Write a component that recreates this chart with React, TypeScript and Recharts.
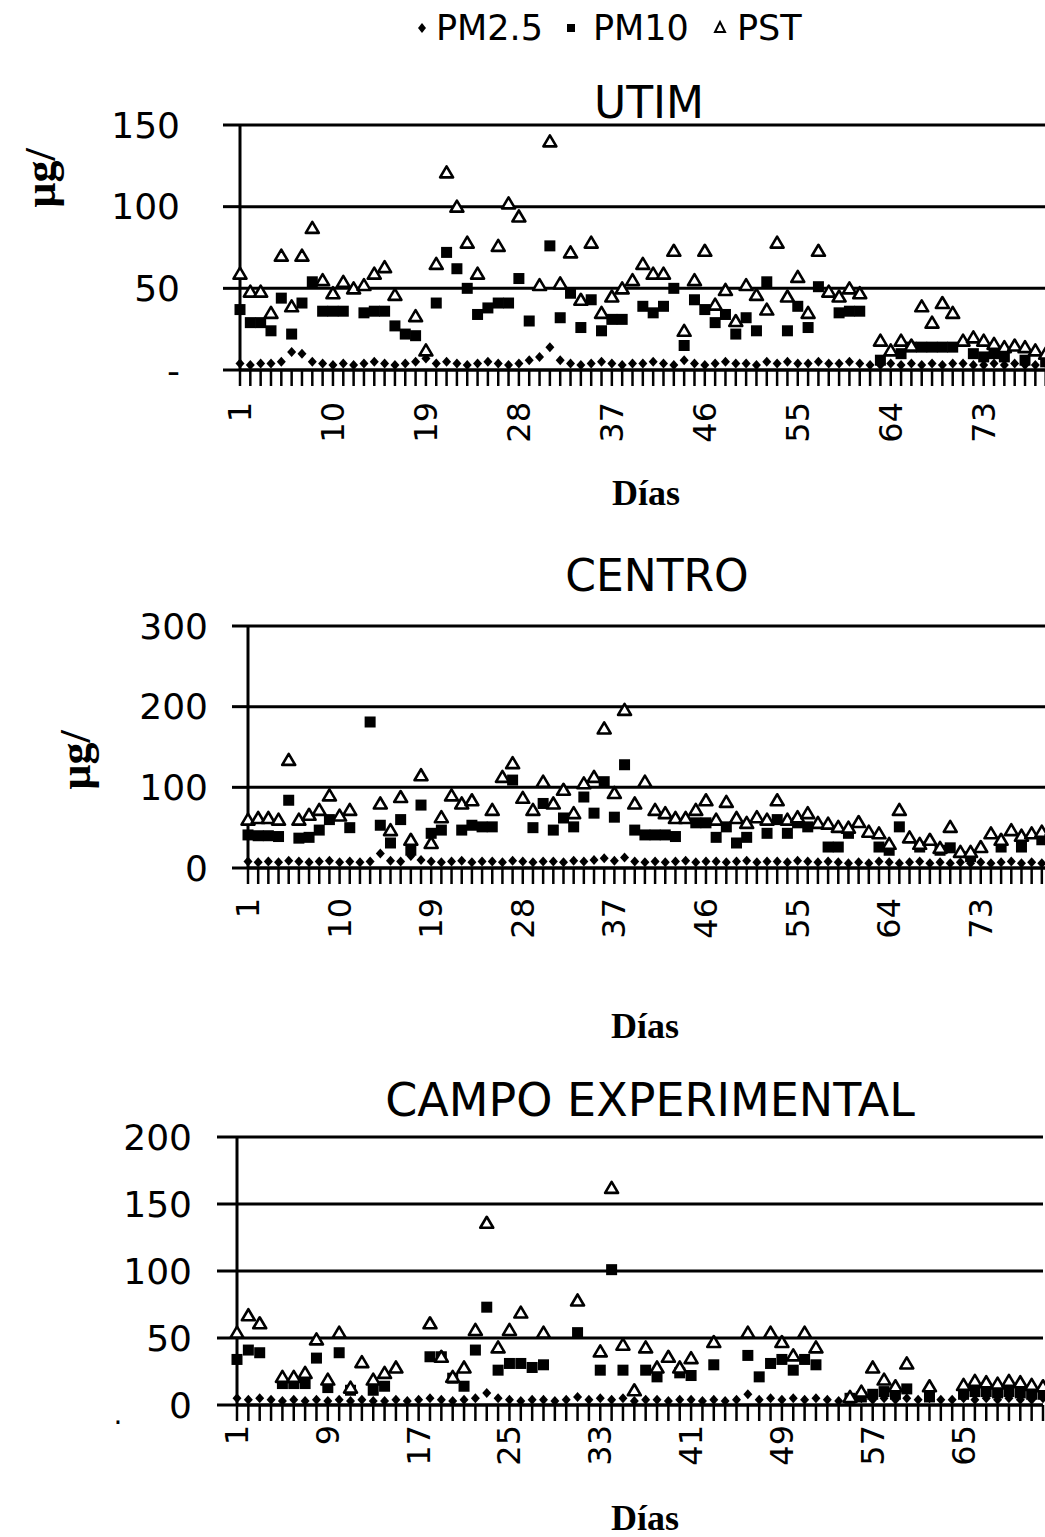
import { CartesianGrid, ComposedChart, Scatter, XAxis, YAxis } from 'recharts'

// UTIM, days 1..80
const utimPm25 = [
  4, 3, 4, 4, 5, 11, 10, 5, 4, 3,
  4, 3, 4, 5, 4, 3, 4, 5, 7, 4,
  5, 4, 3, 4, 5, 4, 3, 4, 6, 8,
  14, 6, 4, 3, 4, 5, 4, 3, 4, 4,
  5, 4, 3, 6, 4, 3, 4, 5, 4, 4,
  3, 5, 4, 5, 4, 4, 5, 4, 4, 5,
  4, 3, 3, 4, 3, 4, 3, 4, 3, 4,
  4, 3, 3, 4, 3, 4, 3, 3, 4, 3,
]
const utimPm10 = [
  37, 29, 29, 24, 44, 22, 41, 54, 36, 36,
  36, null, 35, 36, 36, 27, 22, 21, null, 41,
  72, 62, 50, 34, 38, 41, 41, 56, 30, null,
  76, 32, 47, 26, 43, 24, 31, 31, null, 39,
  35, 39, 50, 15, 43, 37, 29, 34, 22, 32,
  24, 54, null, 24, 39, 26, 51, null, 35, 36,
  36, null, 6, null, 10, 14, 14, 14, 14, 14,
  null, 10, 8, 10, 8, null, 6, null, 5, null,
]
const utimPst = [
  59, 48, 48, 35, 70, 39, 70, 87, 55, 47,
  54, 50, 52, 59, 63, 46, null, 33, 12, 65,
  121, 100, 78, 59, null, 76, 102, 94, null, 52,
  140, 53, 72, 43, 78, 35, 45, 50, 55, 65,
  59, 59, 73, 24, 55, 73, 40, 49, 30, 52,
  46, 37, 78, 45, 57, 35, 73, 48, 45, 50,
  47, null, 18, 12, 18, 15, 39, 29, 41, 35,
  18, 20, 18, 16, 14, 15, 14, 12, 10, 8,
]
const utimTicks = [0, 50, 100, 150]

// CENTRO, days 1..80
const centroPm25 = [
  8, 7, 8, 7, 9, 8, 7, 8, 9, 7,
  8, 7, 8, 18, 9, 8, 15, 10, 8, 7,
  8, 9, 7, 8, 8, 7, 9, 8, 7, 8,
  8, 7, 9, 8, 10, 12, 9, 13, 8, 7,
  8, 7, 8, 9, 7, 8, 8, 7, 8, 9,
  7, 8, 8, 7, 9, 8, 7, 8, 7, 6,
  7, 6, 8, 7, 6, 7, 8, 6, 7, 6,
  7, 6, 7, 6, 7, 8, 6, 7, 6, 7,
]
const centroPm10 = [
  41, 40, 40, 39, 84, 37, 38, 47, 60, null,
  50, null, 181, 53, 31, 60, 22, 78, 43, 47,
  null, 47, 53, 51, 51, null, 109, null, 50, 80,
  47, 62, 51, 88, 68, 107, 63, 128, 47, 41,
  41, 41, 39, null, 56, 56, 38, 51, 31, 38,
  null, 43, 60, 43, 56, 51, null, 26, 26, 43,
  null, null, 26, 22, 51, null, 26, null, 22, 25,
  null, 14, null, null, 26, null, 26, null, 35, null,
]
const centroPst = [
  60, 62, 62, 60, 134, 60, 66, 72, 90, 65,
  72, null, null, 80, 47, 88, 35, 115, 31, 63,
  90, 80, 84, null, 72, 113, 130, 87, 72, 107,
  80, 97, 68, 105, 113, 173, 93, 196, 80, 107,
  72, 68, 62, 62, 72, 84, 60, 82, 62, 56,
  63, 60, 84, 60, 63, 68, 56, 55, 51, 50,
  57, 45, 43, 30, 72, 38, 30, 35, 25, 51,
  20, 20, 26, 43, 35, 47, 40, 43, 45, 47,
]
const centroTicks = [0, 100, 200, 300]

// CAMPO EXPERIMENTAL, days 1..72
const campoPm25 = [
  5, 4, 5, 4, 3, 4, 3, 4, 3, 4,
  3, 4, 3, 3, 4, 3, 4, 5, 4, 3,
  4, 5, 9, 5, 4, 3, 4, 4, 3, 4,
  6, 4, 5, 4, 5, 3, 4, 4, 3, 4,
  4, 3, 4, 3, 4, 8, 4, 5, 4, 5,
  4, 5, 4, 3, 6, 5, 4, 5, 4, 5,
  4, 5, 4, 4, 5, 4, 5, 4, 5, 4,
  4, 5,
]
const campoPm10 = [
  34, 41, 39, null, 16, 16, 16, 35, 13, 39,
  11, null, 11, 14, null, null, null, 36, 36, 20,
  14, 41, 73, 26, 31, 31, 28, 30, null, null,
  54, null, 26, 101, 26, null, 26, 21, null, 24,
  22, null, 30, null, null, 37, 21, 31, 34, 26,
  34, 30, null, null, 5, 6, 8, 10, 8, 12,
  null, 6, null, null, 8, 10, 10, 9, 10, 9,
  8, 8,
]
const campoPst = [
  54, 67, 61, null, 21, 21, 24, 49, 19, 54,
  13, 32, 19, 24, 28, null, null, 61, 36, 21,
  28, 56, 136, 43, 56, 69, null, 54, null, null,
  78, null, 40, 162, 45, 11, 43, 28, 36, 28,
  35, null, 47, null, null, 54, null, 54, 47, 37,
  54, 43, null, null, 6, 10, 28, 19, 14, 31,
  null, 14, null, null, 15, 18, 17, 16, 18, 17,
  15, 14,
]
const campoTicks = [0, 50, 100, 150, 200]

type Val = number | null
type Row = { day: number; pm25: Val; pm10: Val; pst: Val }

const toRows = (pm25: Val[], pm10: Val[], pst: Val[]): Row[] =>
  pm25.map((v, i) => ({ day: i + 1, pm25: v, pm10: pm10[i], pst: pst[i] }))

const ok = (cx: any, cy: any) => typeof cx === 'number' && typeof cy === 'number' && !isNaN(cx) && !isNaN(cy)

const Diamond = (props: any) => {
  const { cx, cy } = props
  if (!ok(cx, cy)) return <g />
  return <path d={`M${cx},${cy - 5}L${cx + 4.5},${cy}L${cx},${cy + 5}L${cx - 4.5},${cy}Z`} fill="#000" />
}

const Square = (props: any) => {
  const { cx, cy } = props
  if (!ok(cx, cy)) return <g />
  return <rect x={cx - 5.5} y={cy - 5.5} width={11} height={11} fill="#000" />
}

const Triangle = (props: any) => {
  const { cx, cy } = props
  if (!ok(cx, cy)) return <g />
  return (
    <path
      d={`M${cx},${cy - 6}L${cx + 6.5},${cy + 5}L${cx - 6.5},${cy + 5}Z`}
      fill="#fff"
      stroke="#000"
      strokeWidth={2.6}
      strokeLinejoin="round"
    />
  )
}

const DayTick = (props: any) => {
  const { x, y, payload, index, every } = props
  if (index % every !== 0) return <g />
  return (
    <text
      x={x}
      y={y}
      transform={`rotate(-90 ${x} ${y})`}
      textAnchor="end"
      dominantBaseline="central"
      fontFamily="DejaVu Sans"
      fontSize={32}
      fill="#000"
    >
      {payload.value}
    </text>
  )
}

type StationProps = {
  rows: Row[]
  ticks: number[]
  top: number
  width: number
  plotTop: number
  plotH: number
  yWidth: number
  yTickSize: number
  yTickMargin: number
  xTickMargin: number
  every: number
  zero: string
  border?: boolean
}

const line = { stroke: '#000', strokeWidth: 3 }

function Station(p: StationProps) {
  const max = p.ticks[p.ticks.length - 1]
  return (
    <div style={{ position: 'absolute', left: 0, top: p.top }}>
      <ComposedChart
        width={p.width}
        height={p.plotTop + p.plotH + 90}
        data={p.rows}
        margin={{ top: p.plotTop, right: p.border ? 2 : 0, left: 0, bottom: 0 }}
      >
        <CartesianGrid vertical={false} stroke="#000" strokeWidth={3} />
        <XAxis
          dataKey="day"
          interval={0}
          height={90}
          tickSize={16}
          tickMargin={p.xTickMargin}
          axisLine={line}
          tickLine={{ stroke: '#000', strokeWidth: 2.5 }}
          tick={<DayTick every={p.every} />}
        />
        <YAxis
          width={p.yWidth}
          domain={[0, max]}
          ticks={p.ticks}
          interval={0}
          tickSize={p.yTickSize}
          tickMargin={p.yTickMargin}
          tickFormatter={(v: number) => (v === 0 ? p.zero : String(v))}
          tick={{ fontFamily: 'DejaVu Sans', fontSize: 36, fill: '#000' }}
          axisLine={line}
          tickLine={line}
        />
        {p.border && (
          <YAxis
            yAxisId="edge"
            orientation="right"
            width={0}
            domain={[0, max]}
            tick={false}
            tickLine={false}
            axisLine={line}
          />
        )}
        <Scatter name="PM2.5" dataKey="pm25" shape={Diamond} isAnimationActive={false} />
        <Scatter name="PM10" dataKey="pm10" shape={Square} isAnimationActive={false} />
        <Scatter name="PST" dataKey="pst" shape={Triangle} isAnimationActive={false} />
      </ComposedChart>
    </div>
  )
}

const sans = 'DejaVu Sans'
const serif = 'Liberation Serif'

export default function App() {
  return (
    <div
      style={{
        position: 'absolute',
        left: 0,
        top: 0,
        width: 1045,
        height: 1537,
        overflow: 'hidden',
        background: '#fff',
      }}
    >
      <Station
        rows={toRows(utimPm25, utimPm10, utimPst)}
        ticks={utimTicks}
        top={0}
        width={1056}
        plotTop={125}
        plotH={245}
        yWidth={240}
        yTickSize={17}
        yTickMargin={43}
        xTickMargin={16}
        every={9}
        zero="-"
      />
      <Station
        rows={toRows(centroPm25, centroPm10, centroPst)}
        ticks={centroTicks}
        top={500}
        width={1052}
        plotTop={126}
        plotH={242}
        yWidth={248}
        yTickSize={16}
        yTickMargin={24}
        xTickMargin={14}
        every={9}
        zero="0"
      />
      <Station
        rows={toRows(campoPm25, campoPm10, campoPst)}
        ticks={campoTicks}
        top={1040}
        width={1045}
        plotTop={97}
        plotH={268}
        yWidth={237}
        yTickSize={20}
        yTickMargin={25}
        xTickMargin={4}
        every={8}
        zero="0"
        border
      />
      <svg
        width={1045}
        height={1537}
        style={{ position: 'absolute', left: 0, top: 0, pointerEvents: 'none' }}
      >
        {/* legend */}
        <path d="M422,23L426,28L422,33L418,28Z" fill="#000" />
        <text x={436} y={40} fontFamily={sans} fontSize={35} fill="#000">PM2.5</text>
        <rect x={567} y={24} width={8} height={8} fill="#000" />
        <text x={593} y={40} fontFamily={sans} fontSize={35} fill="#000">PM10</text>
        <path d="M720,22L725,32L715,32Z" fill="#fff" stroke="#000" strokeWidth={2} />
        <text x={737} y={40} fontFamily={sans} fontSize={35} fill="#000">PST</text>

        {/* titles */}
        <text x={649} y={118} textAnchor="middle" fontFamily={sans} fontSize={44} fill="#000">UTIM</text>
        <text x={657} y={591} textAnchor="middle" fontFamily={sans} fontSize={44} fill="#000">CENTRO</text>
        <text x={650} y={1116} textAnchor="middle" fontFamily={sans} fontSize={46} fill="#000">CAMPO EXPERIMENTAL</text>

        {/* axis titles */}
        <text x={646} y={505} textAnchor="middle" fontFamily={serif} fontWeight="bold" fontSize={36} fill="#000">Días</text>
        <text x={645} y={1038} textAnchor="middle" fontFamily={serif} fontWeight="bold" fontSize={36} fill="#000">Días</text>
        <text x={645} y={1530} textAnchor="middle" fontFamily={serif} fontWeight="bold" fontSize={36} fill="#000">Días</text>
        <text x={40} y={178} transform="rotate(-90 40 178)" textAnchor="middle" dominantBaseline="central" fontFamily={serif} fontWeight="bold" fontSize={44} fill="#000">µg/</text>
        <text x={75} y={760} transform="rotate(-90 75 760)" textAnchor="middle" dominantBaseline="central" fontFamily={serif} fontWeight="bold" fontSize={44} fill="#000">µg/</text>
        <text x={118} y={1424} textAnchor="middle" fontFamily={sans} fontSize={28} fill="#000">.</text>
      </svg>
    </div>
  )
}
